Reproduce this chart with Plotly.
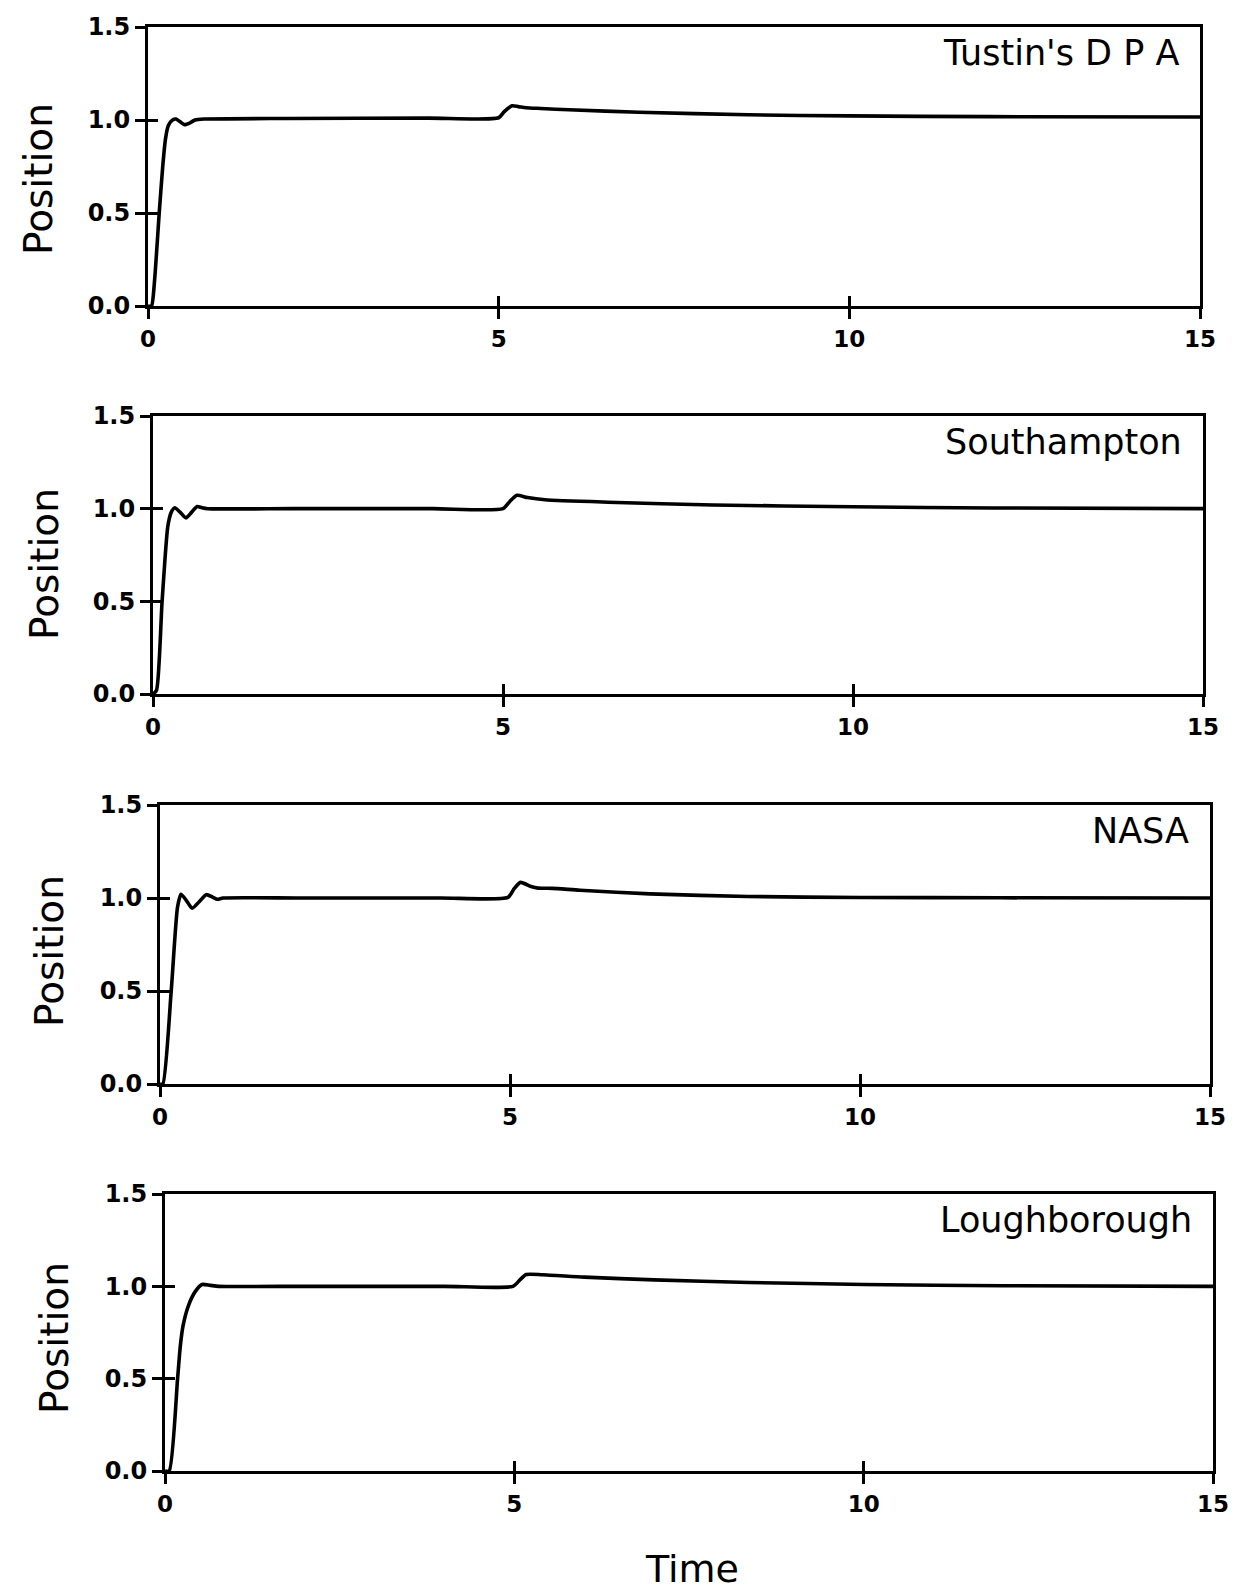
import plotly.graph_objects as go

# ---------------- data ----------------
titles = ["Tustin's D P A", "Southampton", "NASA", "Loughborough"]

t_tustin = [0, 0.05, 0.09, 0.16, 0.21, 0.25, 0.29, 0.35, 0.40, 0.46, 0.52, 0.60, 0.67, 0.80,
            2.0, 4.0, 5.0, 5.08, 5.19, 5.28, 5.39, 5.6, 6.0, 7.0, 8.56, 10.0, 12.0, 15.0]
p_tustin = [0, 0.0, 0.12, 0.50, 0.75, 0.90, 0.97, 1.00, 1.005, 0.99, 0.975, 0.985, 1.00, 1.005,
            1.008, 1.010, 1.012, 1.045, 1.076, 1.072, 1.066, 1.062, 1.055, 1.042, 1.028, 1.022, 1.018, 1.016]

t_south = [0, 0.05, 0.13, 0.21, 0.26, 0.31, 0.39, 0.47, 0.55, 0.63, 0.70, 0.78,
           2.0, 4.0, 5.0, 5.1, 5.2, 5.35, 5.6, 6.5, 8.0, 10.0, 12.0, 15.0]
p_south = [0, 0.02, 0.50, 0.90, 0.98, 1.005, 0.98, 0.95, 0.98, 1.012, 1.005, 1.0,
           1.0, 1.0, 1.0, 1.04, 1.072, 1.060, 1.048, 1.035, 1.020, 1.010, 1.004, 1.0]

t_nasa = [0, 0.04, 0.16, 0.25, 0.30, 0.38, 0.46, 0.56, 0.66, 0.75, 0.82, 0.90,
          2.0, 4.0, 4.97, 5.06, 5.15, 5.3, 5.4, 5.6, 6.0, 7.0, 8.4, 10.0, 12.0, 15.0]
p_nasa = [0, 0.0, 0.50, 0.95, 1.02, 0.985, 0.945, 0.98, 1.018, 1.005, 0.993, 1.0,
          1.0, 1.0, 1.003, 1.05, 1.084, 1.062, 1.053, 1.052, 1.042, 1.022, 1.008, 1.003, 1.001, 1.0]

t_lough = [0, 0.06, 0.18, 0.22, 0.26, 0.34, 0.43, 0.53, 0.65, 0.77,
           2.0, 4.0, 4.98, 5.08, 5.17, 5.4, 6.0, 7.0, 8.36, 10.0, 12.0, 15.0]
p_lough = [0, 0.0, 0.50, 0.68, 0.79, 0.90, 0.97, 1.01, 1.005, 1.0,
           1.0, 1.0, 1.0, 1.035, 1.064, 1.063, 1.05, 1.035, 1.021, 1.01, 1.003, 1.0]

times = [t_tustin, t_south, t_nasa, t_lough]
positions = [p_tustin, p_south, p_nasa, p_lough]

x_ticks = [0, 5, 10, 15]
x_ticktext = ["0", "5", "10", "15"]
y_ticks = [0.0, 0.5, 1.0, 1.5]
y_ticktext = ["0.0", "0.5", "1.0", "1.5"]

x_label = "Time"
y_label = "Position"

# ---------------- layout geometry (pixels) ----------------
W, H = 1242, 1591
panels_px = [  # left, right, top, bottom
    (140, 1192, 19, 298),
    (145, 1195, 408, 686),
    (152, 1202, 797, 1076),
    (157, 1205, 1186, 1463),
]
ylabel_px = [(30, 171), (36, 556), (41, 943), (46, 1330)]

fig = go.Figure()
layout = dict(
    width=W, height=H,
    margin=dict(l=0, r=0, t=0, b=0, autoexpand=False),
    paper_bgcolor="white", plot_bgcolor="white",
    showlegend=False,
)
annotations = []

for i in range(4):
    n = i + 1
    m = i + 5
    l, r, t, b = panels_px[i]
    xd = [l / W, r / W]
    yd = [1 - b / H, 1 - t / H]
    xname = "x" if n == 1 else f"x{n}"
    yname = "y" if n == 1 else f"y{n}"

    fig.add_trace(go.Scatter(
        x=times[i], y=positions[i], mode="lines",
        line=dict(color="black", width=3.6, shape="spline", smoothing=0.6),
        xaxis=xname, yaxis=yname, hoverinfo="skip",
    ))
    # empty trace on overlay axes (inside half of the crossing ticks)
    fig.add_trace(go.Scatter(x=[], y=[], xaxis=f"x{m}", yaxis=f"y{m}", hoverinfo="skip"))

    common = dict(showgrid=False, zeroline=False, ticklen=10, tickwidth=3,
                  tickcolor="black", automargin=False)
    layout[f"xaxis{n}"] = dict(
        domain=xd, anchor=yname, range=[0, 15],
        showline=True, linewidth=3, linecolor="black", mirror=True,
        ticks="outside", tickvals=x_ticks, ticktext=x_ticktext,
        tickfont=dict(family="DejaVu Sans", size=23, color="black", weight="bold"),
        **common)
    layout[f"yaxis{n}"] = dict(
        domain=yd, anchor=xname, range=[0, 1.5],
        showline=True, linewidth=3, linecolor="black", mirror=True,
        ticks="outside", tickvals=y_ticks, ticktext=y_ticktext,
        tickfont=dict(family="DejaVu Sans", size=24, color="black", weight="bold"),
        **common)
    layout[f"xaxis{m}"] = dict(
        overlaying=xname, anchor=yname, range=[0, 15], showline=False,
        ticks="inside", tickvals=x_ticks, showticklabels=False, **common)
    layout[f"yaxis{m}"] = dict(
        overlaying=yname, anchor=xname, range=[0, 1.5], showline=False,
        ticks="inside", tickvals=y_ticks, showticklabels=False, **common)

    annotations.append(dict(
        text=titles[i], xref=f"{xname} domain", yref=f"{yname} domain",
        x=0.982, y=0.985, xanchor="right", yanchor="top", showarrow=False,
        font=dict(family="DejaVu Sans", size=35, color="black"),
    ))
    annotations.append(dict(
        text=y_label, xref="paper", yref="paper",
        x=ylabel_px[i][0] / W, y=1 - ylabel_px[i][1] / H,
        xanchor="center", yanchor="middle", textangle=-90, showarrow=False,
        font=dict(family="DejaVu Sans", size=39, color="black"),
    ))

annotations.append(dict(
    text=x_label, xref="paper", yref="paper",
    x=684 / W, y=1 - 1561 / H, xanchor="center", yanchor="middle", showarrow=False,
    font=dict(family="DejaVu Sans", size=38, color="black"),
))
layout["annotations"] = annotations
fig.update_layout(**layout)
fig.write_html("out.html")
